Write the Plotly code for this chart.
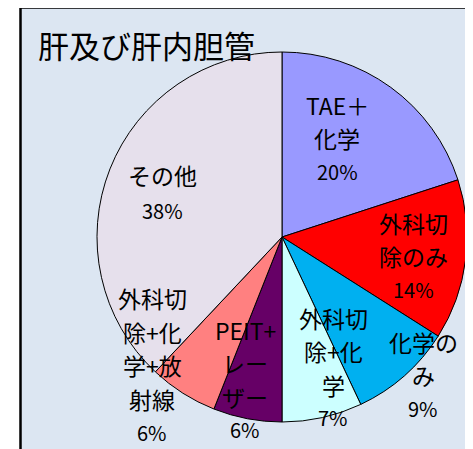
import plotly.graph_objects as go

# ---- data ----
categories = ["TAE＋\n化学", "外科切\n除のみ", "化学の\nみ", "外科切\n除+化\n学",
              "PEIT+\nレー\nザー", "外科切\n除+化\n学+放\n射線", "その他"]
values = [20, 14, 9, 7, 6, 6, 38]
colors = ["#9999FF", "#FF0000", "#00B0F0", "#CCFFFF", "#660066", "#FF8080", "#E6E0EC"]
title = "肝及び肝内胆管"

W, H = 473, 449
OFF = 8  # page body margin
# label placement (pixel centre x, first-line centre y, line step)
label_pos = [(337, 105, 33.5), (413, 223, 33), (423, 342, 33), (333, 318, 33.3),
             (245, 330, 33.3), (152, 298, 33.5), (162, 175, 35)]

FONT = "Noto Sans CJK JP"

def px(x):
    return (x - OFF) / W

def py(y):
    return 1 - (y - OFF) / H

cx, cy, r = 282, 237, 185

fig = go.Figure(go.Pie(
    labels=[c.replace("\n", "") for c in categories],
    values=values,
    sort=False,
    direction="clockwise",
    rotation=0,
    marker=dict(colors=colors, line=dict(color="black", width=1)),
    textinfo="none",
    hoverinfo="label+percent",
    showlegend=False,
    domain=dict(x=[px(cx - r), px(cx + r)], y=[py(cy + r), py(cy - r)]),
))

annotations = []
for cat, v, (x, y0, step) in zip(categories, values, label_pos):
    lines = cat.split("\n") + [f"{v}%"]
    for i, line in enumerate(lines):
        annotations.append(dict(
            x=px(x), y=py(y0 + i * step), xref="paper", yref="paper",
            text=line, showarrow=False, xanchor="center", yanchor="middle",
            font=dict(family=FONT, size=23 if not line.endswith("%") else 20, color="black"),
        ))

annotations.append(dict(
    x=px(36), y=py(45), xref="paper", yref="paper", text=title, showarrow=False,
    xanchor="left", yanchor="middle", font=dict(family=FONT, size=31, color="black"),
))

fig.update_layout(
    width=W, height=H,
    margin=dict(l=0, r=0, t=0, b=0),
    paper_bgcolor="white",
    plot_bgcolor="white",
    annotations=annotations,
    shapes=[dict(type="rect", xref="paper", yref="paper",
                 x0=px(20.5), x1=1.2, y0=-0.2, y1=py(7.5),
                 fillcolor="#DCE6F2", line=dict(color="black", width=2.5), layer="below")],
)

fig.write_html("out.html")
